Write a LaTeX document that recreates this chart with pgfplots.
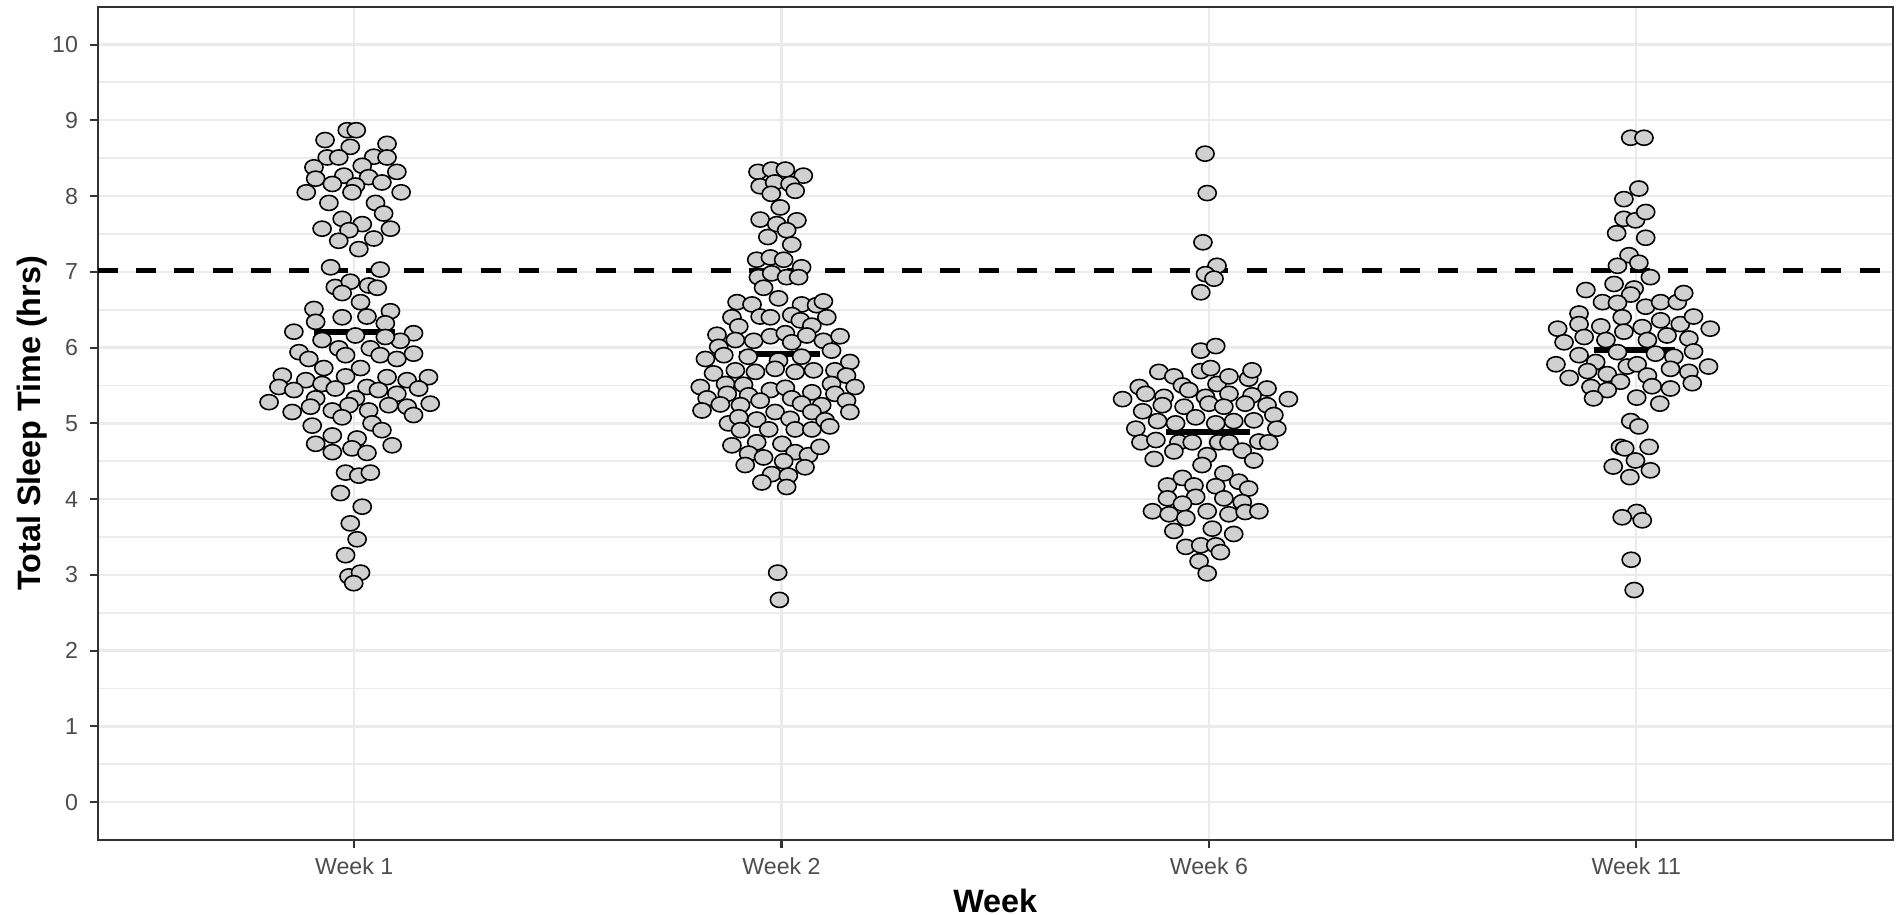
\documentclass[border=0pt]{standalone}
\usepackage{pgfplots}
\pgfplotsset{compat=1.18}
\usepackage{pgfplotstable}
\usepackage{fontspec}
\setmainfont{Liberation Sans}
\definecolor{gridc}{HTML}{EBEBEB}
\definecolor{framec}{HTML}{333333}
\definecolor{tickc}{HTML}{4D4D4D}
\definecolor{ptfill}{HTML}{D0D0D0}

\pgfplotstableread{
x y
0.984 8.87
1.005 8.87
0.932 8.74
0.991 8.65
1.077 8.69
0.937 8.51
0.964 8.51
1.046 8.52
1.077 8.51
0.906 8.38
1.019 8.40
1.100 8.32
0.910 8.23
0.976 8.27
1.034 8.25
1.065 8.18
0.949 8.16
1.003 8.14
0.995 8.05
0.888 8.05
1.110 8.05
0.941 7.91
1.050 7.91
0.972 7.70
1.069 7.77
0.925 7.57
1.019 7.63
0.988 7.55
1.085 7.57
0.964 7.41
1.046 7.44
1.011 7.30
0.945 7.06
1.061 7.03
0.956 6.80
0.991 6.87
1.034 6.82
1.054 6.79
0.972 6.72
1.015 6.60
0.906 6.51
1.085 6.48
0.910 6.34
0.972 6.40
1.030 6.41
1.073 6.32
0.859 6.21
1.139 6.19
0.925 6.10
1.108 6.09
1.073 6.14
1.003 6.16
0.871 5.94
0.894 5.85
0.964 5.99
0.980 5.90
1.038 5.99
1.061 5.90
1.100 5.85
1.139 5.92
0.929 5.73
1.015 5.73
0.832 5.63
0.887 5.57
0.980 5.62
1.077 5.61
1.124 5.57
1.174 5.61
0.824 5.48
0.859 5.44
0.925 5.52
0.956 5.46
1.030 5.48
1.057 5.44
1.151 5.46
0.910 5.33
1.003 5.33
1.100 5.39
1.178 5.26
0.801 5.28
0.855 5.15
0.898 5.22
0.949 5.17
0.988 5.24
0.972 5.08
1.034 5.17
1.081 5.24
1.124 5.22
1.139 5.11
0.902 4.97
1.042 5.00
1.065 4.91
0.949 4.84
1.007 4.80
0.910 4.73
1.089 4.71
0.949 4.62
0.995 4.67
1.030 4.61
0.980 4.35
1.011 4.31
1.038 4.35
0.968 4.08
1.019 3.90
0.991 3.68
1.007 3.47
0.980 3.26
0.988 2.98
1.015 3.03
0.999 2.89
}\weekA

\pgfplotstableread{
x y
1.945 8.32
1.977 8.35
2.009 8.35
2.051 8.27
1.950 8.13
1.984 8.18
2.020 8.16
2.032 8.07
1.976 8.03
1.997 7.85
1.950 7.69
1.989 7.63
2.036 7.68
2.012 7.55
1.968 7.46
2.024 7.36
1.942 7.16
1.974 7.19
2.005 7.16
2.047 7.06
1.946 6.93
1.977 6.98
2.012 6.93
2.040 6.93
1.958 6.79
1.896 6.60
1.931 6.57
1.993 6.65
2.047 6.57
2.082 6.56
2.098 6.61
1.884 6.40
1.950 6.41
1.974 6.40
2.024 6.43
2.044 6.36
2.106 6.40
1.900 6.28
2.071 6.29
1.849 6.17
1.892 6.10
1.935 6.09
1.974 6.15
2.009 6.19
2.024 6.07
2.059 6.16
2.098 6.09
2.137 6.15
1.853 6.01
2.117 5.96
1.822 5.85
1.865 5.90
1.922 5.88
1.993 5.83
2.047 5.88
2.160 5.81
1.841 5.66
1.892 5.70
1.939 5.68
1.985 5.72
2.032 5.68
2.075 5.70
2.125 5.70
2.152 5.63
1.810 5.48
1.869 5.52
1.911 5.51
1.974 5.44
2.009 5.47
2.071 5.41
2.117 5.52
2.172 5.48
1.826 5.33
1.873 5.39
1.923 5.37
1.950 5.30
2.024 5.33
2.047 5.26
2.094 5.24
2.125 5.39
2.152 5.30
1.814 5.17
1.857 5.25
1.904 5.24
1.985 5.15
2.071 5.15
2.160 5.15
1.876 5.00
1.900 5.08
1.942 5.05
1.970 4.92
2.020 5.06
2.032 4.92
2.071 4.92
2.102 5.04
2.113 4.96
1.904 4.91
1.884 4.71
1.942 4.75
2.001 4.73
1.923 4.60
1.958 4.55
2.032 4.62
2.063 4.58
2.090 4.69
1.915 4.45
2.005 4.50
2.055 4.42
1.977 4.33
2.016 4.31
1.954 4.22
2.012 4.16
1.991 3.03
1.995 2.67
}\weekB

\pgfplotstableread{
x y
2.991 8.56
2.996 8.04
2.986 7.39
3.019 7.08
2.992 6.97
3.012 6.91
2.981 6.73
2.981 5.96
3.016 6.02
2.883 5.68
2.918 5.62
2.938 5.50
2.953 5.44
2.981 5.69
3.004 5.73
3.019 5.52
3.047 5.62
3.093 5.59
3.101 5.70
3.136 5.46
2.837 5.48
2.852 5.39
2.798 5.32
2.895 5.35
2.891 5.24
2.942 5.22
2.992 5.35
3.000 5.26
3.047 5.39
3.101 5.37
3.085 5.26
3.035 5.22
3.136 5.24
3.152 5.11
3.186 5.32
2.845 5.16
2.880 5.03
2.922 5.00
2.969 5.08
3.016 5.00
3.058 5.03
3.105 5.04
3.159 4.93
2.829 4.93
2.841 4.75
2.876 4.78
2.930 4.75
2.961 4.75
3.023 4.75
3.047 4.75
3.078 4.64
3.117 4.76
3.140 4.75
2.872 4.53
2.918 4.63
2.996 4.58
2.984 4.45
3.105 4.51
2.903 4.18
2.938 4.28
2.965 4.18
3.035 4.34
3.070 4.23
3.016 4.17
3.093 4.14
2.903 4.01
2.969 4.03
3.035 4.01
3.078 3.96
2.868 3.84
2.907 3.80
2.938 3.94
2.946 3.75
2.996 3.84
3.047 3.80
3.085 3.83
3.117 3.84
2.918 3.58
3.008 3.61
3.058 3.54
2.946 3.37
2.981 3.39
3.016 3.39
3.027 3.30
2.977 3.18
2.996 3.02
}\weekC

\pgfplotstableread{
x y
3.987 8.77
4.018 8.77
4.006 8.10
3.971 7.96
3.971 7.70
3.998 7.68
4.022 7.79
3.954 7.51
4.022 7.45
3.983 7.22
4.006 7.12
3.956 7.08
4.033 6.93
3.882 6.76
3.948 6.84
3.995 6.78
3.987 6.70
3.921 6.60
3.956 6.59
4.022 6.54
4.057 6.60
4.096 6.60
4.111 6.72
3.866 6.45
3.967 6.40
4.057 6.36
4.103 6.31
4.134 6.41
4.173 6.25
3.816 6.25
3.866 6.31
3.917 6.28
3.971 6.21
4.014 6.27
4.072 6.16
4.123 6.12
3.831 6.07
3.878 6.14
3.929 6.10
4.026 6.10
3.866 5.90
3.956 5.94
4.045 5.92
4.088 5.88
4.134 5.95
3.812 5.78
3.905 5.81
3.886 5.69
3.932 5.65
3.979 5.75
4.002 5.78
4.026 5.63
4.080 5.72
4.123 5.68
4.169 5.75
3.843 5.60
3.963 5.55
4.131 5.53
3.894 5.48
3.932 5.44
4.037 5.49
4.080 5.46
3.900 5.33
4.001 5.34
4.055 5.26
3.987 5.03
4.006 4.96
3.963 4.69
3.973 4.67
4.030 4.69
3.998 4.51
3.946 4.43
4.033 4.38
3.985 4.29
4.001 3.83
3.967 3.76
4.014 3.72
3.988 3.20
3.995 2.80
}\weekD

\begin{document}
\begin{tikzpicture}
\begin{axis}[
  scale only axis, width=17.95cm, height=8.333cm,
  xmin=0.4, xmax=4.6, ymin=-0.5, ymax=10.5,
  xtick={1,2,3,4}, xticklabels={Week 1,Week 2,Week 6,Week 11},
  ytick={0,1,...,10}, minor ytick={0.5,1.5,...,9.5},
  grid=both,
  major grid style={draw=gridc, line width=0.65pt},
  minor grid style={draw=gridc, line width=0.55pt},
  axis line style={draw=framec, line width=0.6pt},
  tick style={draw=framec, line width=0.6pt},
  tick align=outside, major tick length=0.08cm, minor tick length=0pt,
  tick pos=left,
  ticklabel style={font=\fontsize{6.6}{7}\selectfont, text=tickc, inner sep=0pt},
  yticklabel style={xshift=-0.11cm},
  xticklabel style={yshift=-0.09cm},
  /pgf/number format/assume math mode=true,
  xlabel={Week}, ylabel={Total Sleep Time (hrs)},
  label style={font=\fontsize{9.2}{10}\selectfont\bfseries, inner sep=0pt},
  xlabel style={at={(axis description cs:0.5,-0.0864)}, anchor=base},
  ylabel style={at={(axis description cs:-0.0321,0.5)}, anchor=base},
]
\coordinate (sw) at (rel axis cs:0,0);
\coordinate (ne) at (rel axis cs:1,1);
\addplot[only marks, mark=*, mark size=2.15pt,
  mark options={fill=ptfill, draw=black, line width=0.45pt, xscale=1.2}] table {\weekA};
\addplot[only marks, mark=*, mark size=2.15pt,
  mark options={fill=ptfill, draw=black, line width=0.45pt, xscale=1.2}] table {\weekB};
\addplot[only marks, mark=*, mark size=2.15pt,
  mark options={fill=ptfill, draw=black, line width=0.45pt, xscale=1.2}] table {\weekC};
\addplot[only marks, mark=*, mark size=2.15pt,
  mark options={fill=ptfill, draw=black, line width=0.45pt, xscale=1.2}] table {\weekD};
\addplot[black, line width=1.3pt, dash pattern=on 0.2cm off 0.183cm] coordinates {(0.4,7.02) (4.6,7.02)};
\addplot[black, line width=1.7pt] coordinates {(0.905,6.20) (1.095,6.20)};
\addplot[black, line width=1.7pt] coordinates {(1.900,5.91) (2.090,5.91)};
\addplot[black, line width=1.7pt] coordinates {(2.900,4.88) (3.095,4.88)};
\addplot[black, line width=1.7pt] coordinates {(3.900,5.97) (4.090,5.97)};
\end{axis}
\pgfresetboundingbox
\path[use as bounding box] ([shift={(-0.977cm,-0.74cm)}]sw) rectangle ([shift={(0.093cm,0.067cm)}]ne);
\end{tikzpicture}
\end{document}
